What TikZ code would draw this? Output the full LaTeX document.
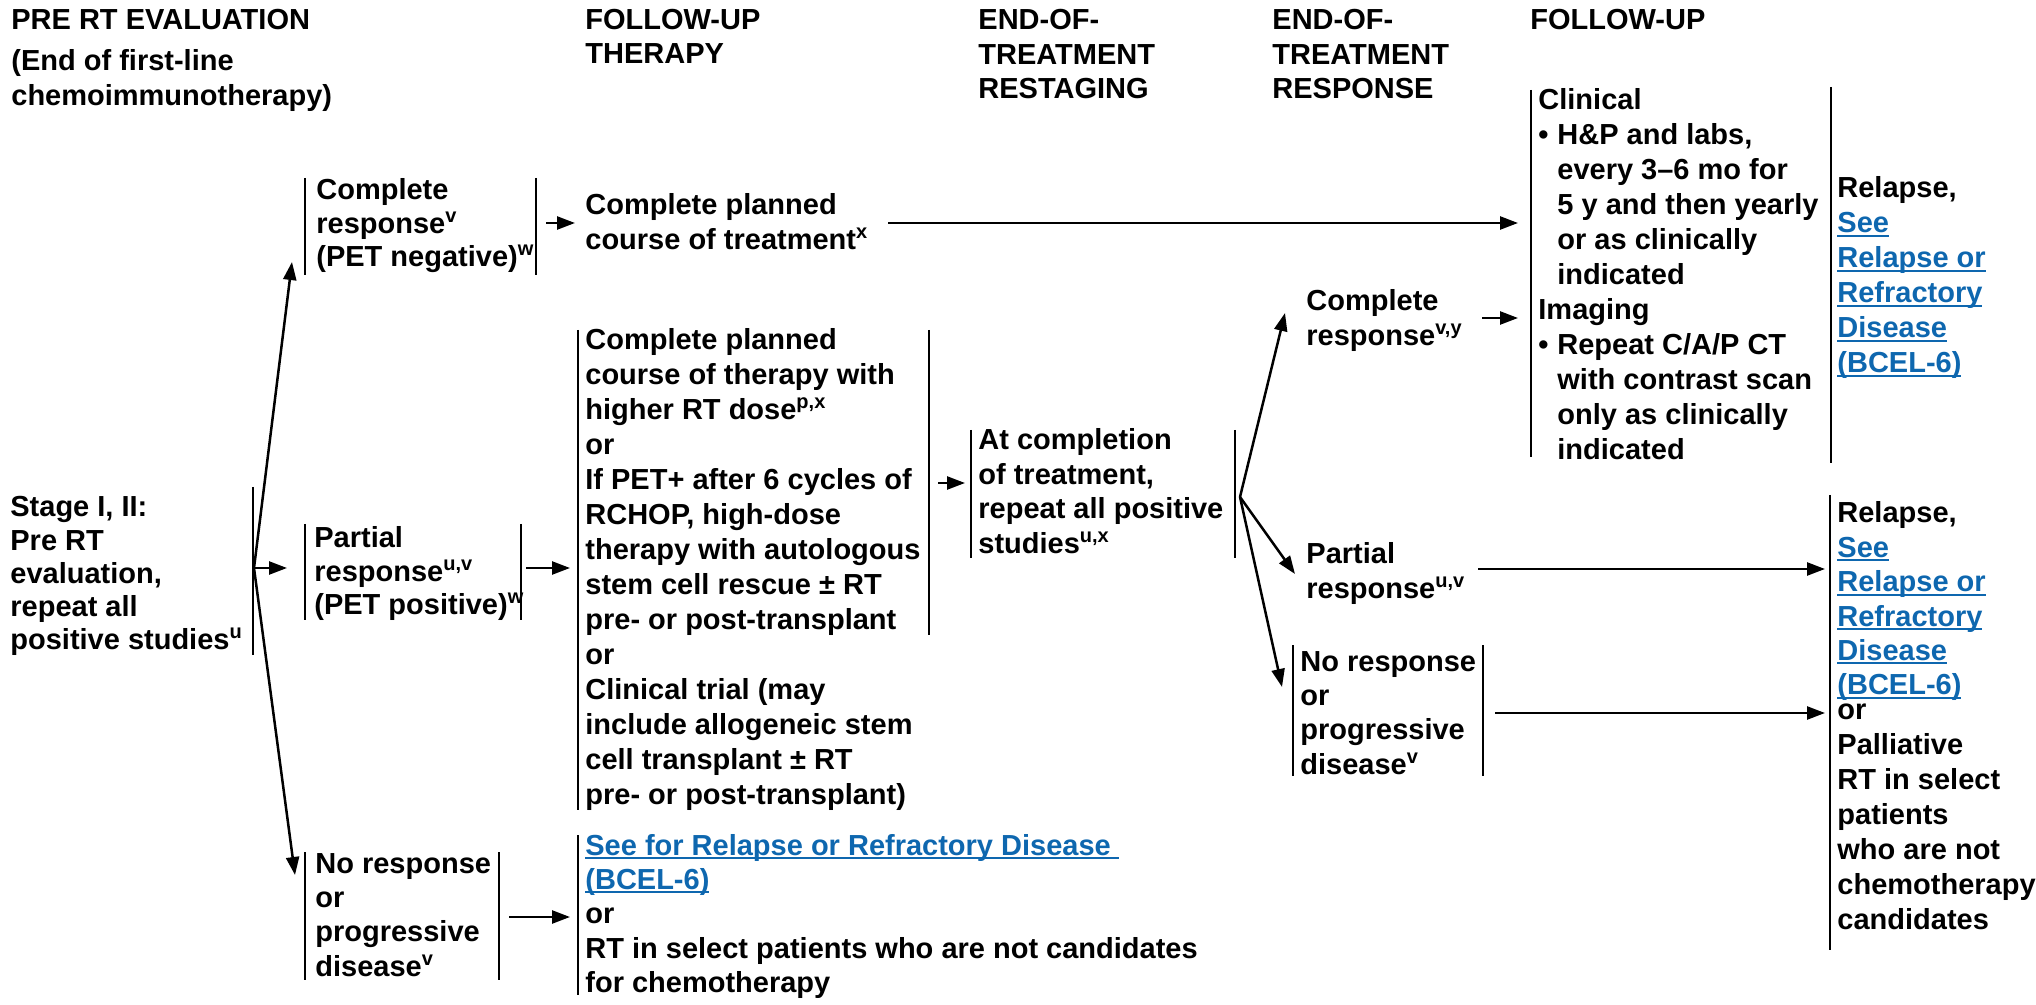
\documentclass[tikz,border=0pt]{standalone}
\usepackage{fontspec}
\setmainfont{Liberation Sans}
\usetikzlibrary{arrows.meta}
\definecolor{linkblue}{RGB}{14,103,175}
\newcommand\sups[1]{\smash{\raisebox{0.38em}{\fontsize{10}{10}\selectfont #1}}}
\newcommand\ulink[1]{\begingroup\color{linkblue}\setbox0=\hbox{#1}\rlap{\rule[-1.9pt]{\wd0}{1pt}}\box0\endgroup}
\newcommand\tb[1]{\begin{tabular}[t]{@{}l@{}}#1\end{tabular}}
\newcommand\bul{\makebox[9.5pt][l]{•}}
\newcommand\ind{\hspace*{9.5pt}}
\begin{document}
\begin{tikzpicture}[x=0.5pt,y=-0.5pt,
  txt/.style={inner sep=0pt,anchor=base west,font=\fontsize{14.5}{17.2}\selectfont\bfseries},
  txtw/.style={txt,font=\fontsize{14.5}{17.5}\selectfont\bfseries},
  txtn/.style={txt,font=\fontsize{14.5}{16.6}\selectfont\bfseries},
  vbar/.style={line width=1.3pt},
  arr/.style={line width=1.25pt,-{Triangle[length=9pt,width=6.5pt]}}]
\useasboundingbox (0,0) rectangle (2036,1005);

% headers
\node[txt] (h1) at (11,30) {PRE RT EVALUATION};
\node[txtw] (h1b) at (11,71) {\tb{(End of first-line\\chemoimmunotherapy)}};
\node[txtn] (h2) at (585,30) {\tb{FOLLOW-UP\\THERAPY}};
\node[txt] (h3) at (978,30) {\tb{END-OF-\\TREATMENT\\RESTAGING}};
\node[txt] (h4) at (1272,30) {\tb{END-OF-\\TREATMENT\\RESPONSE}};
\node[txt] (h5) at (1530,30) {FOLLOW-UP};

% stage
\node[txtn] (stage) at (10,517) {\tb{Stage I, II:\\Pre RT\\evaluation,\\repeat all\\positive studies\sups{u}}};
\draw[vbar] (253,487) -- (253,655);

% complete response (PET negative)
\node[txtn] (cr1) at (316,200) {\tb{Complete\\response\sups{v}\\(PET negative)\sups{w}}};
\draw[vbar] (305,178) -- (305,275);
\draw[vbar] (536,178) -- (536,275);

\node[txt] (cpc) at (585,215) {\tb{Complete planned\\course of treatment\sups{x}}};

% partial response (PET positive)
\node[txtn] (pr1) at (314,548) {\tb{Partial\\response\sups{u,v}\\(PET positive)\sups{w}}};
\draw[vbar] (305,524) -- (305,620);
\draw[vbar] (521,524) -- (521,620);

% no response (left)
\node[txt] (nr1) at (315,873) {\tb{No response\\or\\progressive\\disease\sups{v}}};
\draw[vbar] (305,852) -- (305,980);
\draw[vbar] (499,852) -- (499,980);

% big therapy box
\node[txtw] (big) at (585,350) {\tb{Complete planned\\course of therapy with\\higher RT dose\sups{p,x}\\or\\If PET+ after 6 cycles of\\RCHOP, high-dose\\therapy with autologous\\stem cell rescue ± RT\\pre- or post-transplant\\or\\Clinical trial (may\\include allogeneic stem\\cell transplant ± RT\\pre- or post-transplant)}};
\draw[vbar] (578,330) -- (578,810);
\draw[vbar] (929,330) -- (929,635);

% see for relapse
\node[txt] (see1) at (585,855) {\tb{\ulink{See for Relapse or Refractory Disease\ }\\\ulink{(BCEL-6)}\\or\\RT in select patients who are not candidates\\for chemotherapy}};
\draw[vbar] (578,835) -- (578,995);

% at completion
\node[txt] (atc) at (978,450) {\tb{At completion\\of treatment,\\repeat all positive\\studies\sups{u,x}}};
\draw[vbar] (971,430) -- (971,558);
\draw[vbar] (1235,430) -- (1235,558);

% end of treatment responses
\node[txt] (cr2) at (1306,311) {\tb{Complete\\response\sups{v,y}}};
\node[txt] (pr2) at (1306,564) {\tb{Partial\\response\sups{u,v}}};
\node[txt] (nr2) at (1300,671) {\tb{No response\\or\\progressive\\disease\sups{v}}};
\draw[vbar] (1293,645) -- (1293,776);
\draw[vbar] (1483,645) -- (1483,776);

% follow-up
\node[txtw] (fu) at (1538,110) {\tb{Clinical\\\bul H\&P and labs,\\\ind every 3–6 mo for\\\ind 5 y and then yearly\\\ind or as clinically\\\ind indicated\\Imaging\\\bul Repeat C/A/P CT\\\ind with contrast scan\\\ind only as clinically\\\ind indicated}};
\draw[vbar] (1531,90) -- (1531,457);

\node[txtw] (rel1) at (1837,198) {\tb{Relapse,\\\ulink{See}\\\ulink{Relapse or}\\\ulink{Refractory}\\\ulink{Disease}\\\ulink{(BCEL-6)}}};
\draw[vbar] (1831,87) -- (1831,463);

\node[txt] (rel2) at (1837,523) {\tb{Relapse,\\\ulink{See}\\\ulink{Relapse or}\\\ulink{Refractory}\\\ulink{Disease}\\\ulink{(BCEL-6)}}};
\node[txtw] (rel2b) at (1837,719) {\tb{or\\Palliative\\RT in select\\patients\\who are not\\chemotherapy\\candidates}};
\draw[vbar] (1830,495) -- (1830,950);

% connector end points
\coordinate (stO) at (254,568);
\coordinate (cr1L) at (292,262);
\coordinate (pr1L) at (287,568);
\coordinate (nr1L) at (295,875);
\coordinate (cr1R) at (546,223);
\coordinate (cpcL) at (575,223);
\coordinate (cpcR) at (888,223);
\coordinate (fuA) at (1518,223);
\coordinate (pr1R) at (526,568);
\coordinate (bigL) at (570,568);
\coordinate (nr1R) at (509,917);
\coordinate (see1L) at (570,917);
\coordinate (bigR) at (938,483);
\coordinate (atcL) at (965,483);
\coordinate (atcO) at (1240,497);
\coordinate (cr2L) at (1285,313);
\coordinate (pr2L) at (1295,574);
\coordinate (nr2L) at (1282,687);
\coordinate (cr2R) at (1482,318);
\coordinate (fuB) at (1518,318);
\coordinate (pr2R) at (1478,569);
\coordinate (rel2A) at (1825,569);
\coordinate (nr2R) at (1495,713);
\coordinate (rel2B) at (1825,713);

% connectors
\draw[arr] (stO) -- (cr1L);
\draw[arr] (stO) -- (pr1L);
\draw[arr] (stO) -- (nr1L);
\draw[arr] (cr1R) -- (cpcL);
\draw[arr] (cpcR) -- (fuA);
\draw[arr] (pr1R) -- (bigL);
\draw[arr] (nr1R) -- (see1L);
\draw[arr] (bigR) -- (atcL);
\draw[arr] (atcO) -- (cr2L);
\draw[arr] (atcO) -- (pr2L);
\draw[arr] (atcO) -- (nr2L);
\draw[arr] (cr2R) -- (fuB);
\draw[arr] (pr2R) -- (rel2A);
\draw[arr] (nr2R) -- (rel2B);
\end{tikzpicture}
\end{document}
